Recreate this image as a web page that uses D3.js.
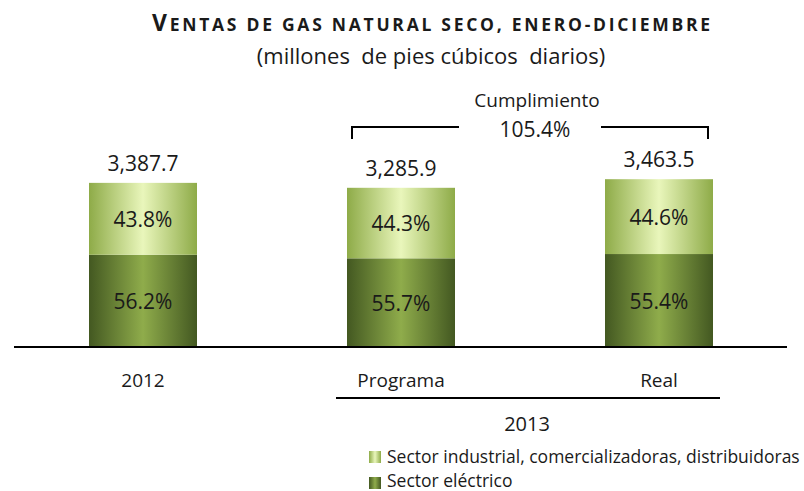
<!DOCTYPE html>
<html>
<head>
<meta charset="utf-8">
<script src="https://cdn.jsdelivr.net/npm/d3@7"></script>
<style>
  body { margin: 0; background: #fff; }
  text { font-family: "Open Sans", "Noto Sans", sans-serif; fill: #1a1a1a; white-space: pre; }
</style>
</head>
<body>
<div id="chart"></div>
<script>
const width = 804, height = 491;

// data
const categories = ["2012", "Programa", "Real"];
const totals = [3387.7, 3285.9, 3463.5];
const electrico = [56.2, 55.7, 55.4];
const industrial = [43.8, 44.3, 44.6];
const totalLabels = ["3,387.7", "3,285.9", "3,463.5"];
const cumplimiento = "105.4%";
const seriesNames = ["Sector industrial, comercializadoras, distribuidoras", "Sector eléctrico"];

const baseY = 347;
const barW = 108;

const svg = d3.select("#chart").append("svg")
    .attr("width", width)
    .attr("height", height)
    .attr("viewBox", [0, 0, width, height]);

// gradients, lighter in the middle like the original cylinders
const defs = svg.append("defs");
function grad(id, edge, mid) {
    const g = defs.append("linearGradient").attr("id", id)
        .attr("x1", "0%").attr("x2", "100%").attr("y1", "0%").attr("y2", "0%");
    g.append("stop").attr("offset", "0%").attr("stop-color", edge);
    g.append("stop").attr("offset", "50%").attr("stop-color", mid);
    g.append("stop").attr("offset", "100%").attr("stop-color", edge);
}
grad("gTop", "#8eab48", "#e9f6bb");
grad("gBot", "#435821", "#8fac4b");

const x = d3.scalePoint().domain(categories).range([14, 788]).padding(0.5);
const y = d3.scaleLinear().domain([0, 4000]).range([baseY, baseY - 4000 * 0.04845]);

const rows = categories.map((c, i) => ({
    cat: c,
    total: totals[i],
    el: totals[i] * electrico[i] / 100,
    elPct: electrico[i],
    inPct: industrial[i],
    label: totalLabels[i]
}));

const g = svg.append("g");

// bottom segment: sector eléctrico
g.selectAll("rect.bot").data(rows).join("rect")
    .attr("class", "bot")
    .attr("x", d => x(d.cat) - barW / 2)
    .attr("width", barW)
    .attr("y", d => y(d.el))
    .attr("height", d => y(0) - y(d.el))
    .attr("fill", "url(#gBot)");

// top segment: sector industrial
g.selectAll("rect.top").data(rows).join("rect")
    .attr("class", "top")
    .attr("x", d => x(d.cat) - barW / 2)
    .attr("width", barW)
    .attr("y", d => y(d.total))
    .attr("height", d => y(d.el) - y(d.total))
    .attr("fill", "url(#gTop)");

// percentage labels
g.selectAll("text.pb").data(rows).join("text")
    .attr("x", d => x(d.cat))
    .attr("y", d => (y(0) + y(d.el)) / 2 + 8)
    .attr("text-anchor", "middle")
    .style("font-size", "21px")
    .text(d => d.elPct.toFixed(1) + "%");

g.selectAll("text.pt").data(rows).join("text")
    .attr("x", d => x(d.cat))
    .attr("y", d => (y(d.el) + y(d.total)) / 2 + 8)
    .attr("text-anchor", "middle")
    .style("font-size", "21px")
    .text(d => d.inPct.toFixed(1) + "%");

// totals above
g.selectAll("text.tot").data(rows).join("text")
    .attr("x", d => x(d.cat))
    .attr("y", d => y(d.total) - 12)
    .attr("text-anchor", "middle")
    .style("font-size", "21px")
    .text(d => d.label);

// baseline
svg.append("line")
    .attr("x1", 14).attr("x2", 787)
    .attr("y1", baseY).attr("y2", baseY)
    .attr("stroke", "#000").attr("stroke-width", 2);

// category labels
svg.selectAll("text.cat").data(categories).join("text")
    .attr("x", d => x(d))
    .attr("y", 387)
    .attr("text-anchor", "middle")
    .style("font-size", "19px")
    .text(d => d);

// 2013 group
svg.append("line")
    .attr("x1", 336).attr("x2", 720)
    .attr("y1", 398).attr("y2", 398)
    .attr("stroke", "#000").attr("stroke-width", 2);
svg.append("text")
    .attr("x", 527).attr("y", 431)
    .attr("text-anchor", "middle")
    .style("font-size", "20px")
    .text("2013");

// cumplimiento bracket
const bx1 = x("Programa") - 49, bx2 = x("Real") + 49, by = 127;
svg.append("path")
    .attr("d", `M${bx1},${by + 12}V${by}H459M601,${by}H${bx2}V${by + 12}`)
    .attr("fill", "none").attr("stroke", "#000").attr("stroke-width", 2);
svg.append("text")
    .attr("x", 537).attr("y", 107)
    .attr("text-anchor", "middle")
    .style("font-size", "19px")
    .text("Cumplimiento");
svg.append("text")
    .attr("x", 535).attr("y", 137)
    .attr("text-anchor", "middle")
    .style("font-size", "21px")
    .text(cumplimiento);

// title, hand-made small caps
const title = svg.append("text")
    .attr("x", 431).attr("y", 31)
    .attr("text-anchor", "middle")
    .attr("textLength", 558)
    .attr("lengthAdjust", "spacing")
    .style("font-weight", "bold");
title.append("tspan").style("font-size", "23px").text("V");
title.append("tspan").style("font-size", "17.5px").text("entas de gas natural seco, enero-diciembre".toUpperCase());

svg.append("text")
    .attr("x", 431).attr("y", 64)
    .attr("text-anchor", "middle")
    .style("font-size", "22px")
    .text("(millones  de pies cúbicos  diarios)");

// legend
const leg = svg.selectAll("g.leg").data(seriesNames).join("g")
    .attr("transform", (d, i) => `translate(369,${451 + i * 26})`);
leg.append("rect")
    .attr("width", 12).attr("height", 12)
    .attr("fill", (d, i) => i === 0 ? "url(#gTop)" : "url(#gBot)");
leg.append("text")
    .attr("x", 18).attr("y", (d, i) => 12 - i * 2)
    .style("font-size", "17.5px")
    .text(d => d);
</script>
</body>
</html>
